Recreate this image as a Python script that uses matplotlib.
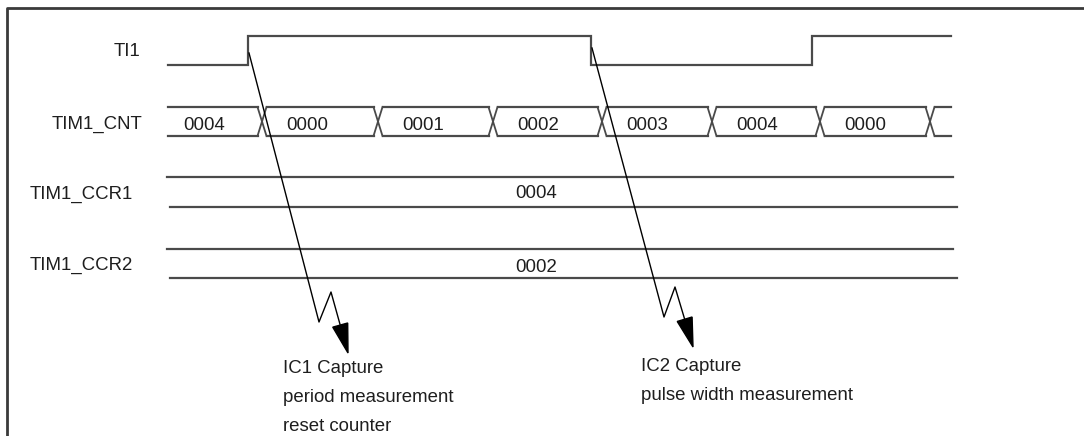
import numpy as np
import matplotlib
matplotlib.use("Agg")
import matplotlib.pyplot as plt
from matplotlib.patches import Polygon

# ---- data (time axis expressed in drawing units, left -> right) ----
signal_names = ["TI1", "TIM1_CNT", "TIM1_CCR1", "TIM1_CCR2"]
t_start, t_end = 168, 951

ti1_edges = [248, 591, 812]          # transition times of TI1
ti1_levels = [0, 1, 0, 1]            # level in each interval

cnt_edges = [262, 378, 493, 602, 712, 820, 930]
cnt_values = ["0004", "0000", "0001", "0002", "0003", "0004", "0000"]

ccr1_value = "0004"
ccr2_value = "0002"

capture_edges = [248, 591]
capture_texts = [["IC1 Capture", "period measurement", "reset counter"],
                 ["IC2 Capture", "pulse width measurement"]]

# ---- figure ----
W, H = 1084, 436
fig = plt.figure(figsize=(W / 100, H / 100), dpi=100)
ax = fig.add_axes([0, 0, 1, 1])
ax.set_xlim(0, W)
ax.set_ylim(H, 0)
ax.axis("off")

FONT = "Liberation Sans"
FS = 13.4
TXT = "#1e1e1e"
LC = "#4a4a4a"
LW = 1.6

# frame (left + top)
ax.plot([7, 7, W], [H, 8, 8], color="#3a3a3a", lw=2.0, solid_capstyle="butt")

# row geometry
ti1_hi, ti1_lo = 36, 65
bus_top, bus_bot = 107, 136
ccr1_top, ccr1_bot = 177, 207
ccr2_top, ccr2_bot = 249, 278

# labels
label_pos = [(140, 52), (142, 124), (133, 194), (133, 265)]
for name, (lx, ly) in zip(signal_names, label_pos):
    ax.text(lx, ly, name, ha="right", va="center", fontsize=FS,
            family=FONT, color=TXT)

# TI1 waveform
bounds = [t_start] + ti1_edges + [t_end]
xs, ys = [], []
for i, lvl in enumerate(ti1_levels):
    y = ti1_hi if lvl else ti1_lo
    xs += [bounds[i], bounds[i + 1]]
    ys += [y, y]
ax.plot(xs, ys, color=LC, lw=LW, solid_joinstyle="miter")

# TIM1_CNT bus
hw = 4.5
seg_starts = [t_start] + [e + hw for e in cnt_edges]
seg_ends = [e - hw for e in cnt_edges] + [t_end]
for i in range(len(seg_starts)):
    ax.plot([seg_starts[i], seg_ends[i]], [bus_top, bus_top], color=LC, lw=LW)
    ax.plot([seg_starts[i], seg_ends[i]], [bus_bot, bus_bot], color=LC, lw=LW)
for e in cnt_edges:
    ax.plot([e - hw, e + hw], [bus_top, bus_bot], color=LC, lw=1.3)
    ax.plot([e - hw, e + hw], [bus_bot, bus_top], color=LC, lw=1.3)
seg_text_start = [t_start + 15] + [e + 24 for e in cnt_edges[:-1]]
for x0, v in zip(seg_text_start, cnt_values):
    ax.text(x0, 125, v, ha="left", va="center", fontsize=FS,
            family=FONT, color=TXT)

# CCR registers
for top, bot, val, ty in [(ccr1_top, ccr1_bot, ccr1_value, 193),
                          (ccr2_top, ccr2_bot, ccr2_value, 267)]:
    ax.plot([t_start - 1, 953], [top, top], color=LC, lw=LW)
    ax.plot([t_start + 2, 957], [bot, bot], color=LC, lw=LW)
    ax.text(536, ty, val, ha="center", va="center", fontsize=FS,
            family=FONT, color=TXT)

# capture arrows
arrow_geo = [
    dict(start=(249, 53), zb=(319, 322), zt=(331, 292), tip=(348, 353),
         tx=283, ty=368),
    dict(start=(592, 48), zb=(664, 317), zt=(675, 287), tip=(693, 347),
         tx=641, ty=366),
]
for g, lines in zip(arrow_geo, capture_texts):
    p = np.array([g["start"], g["zb"], g["zt"], g["tip"]], dtype=float)
    u = p[3] - p[2]
    u /= np.hypot(*u)
    perp = np.array([-u[1], u[0]])
    L, Wd = 29, 15.5
    base = p[3] - L * u
    ax.plot(p[:3, 0].tolist() + [base[0]], p[:3, 1].tolist() + [base[1]],
            color="black", lw=1.0)
    tri = np.array([p[3], base + Wd / 2 * perp, base - Wd / 2 * perp])
    ax.add_patch(Polygon(tri, closed=True, color="black"))
    for k, s in enumerate(lines):
        ax.text(g["tx"], g["ty"] + 29 * k, s, ha="left", va="center",
                fontsize=FS, family=FONT, color=TXT)

fig.savefig("out.png", dpi=100, facecolor="white")
